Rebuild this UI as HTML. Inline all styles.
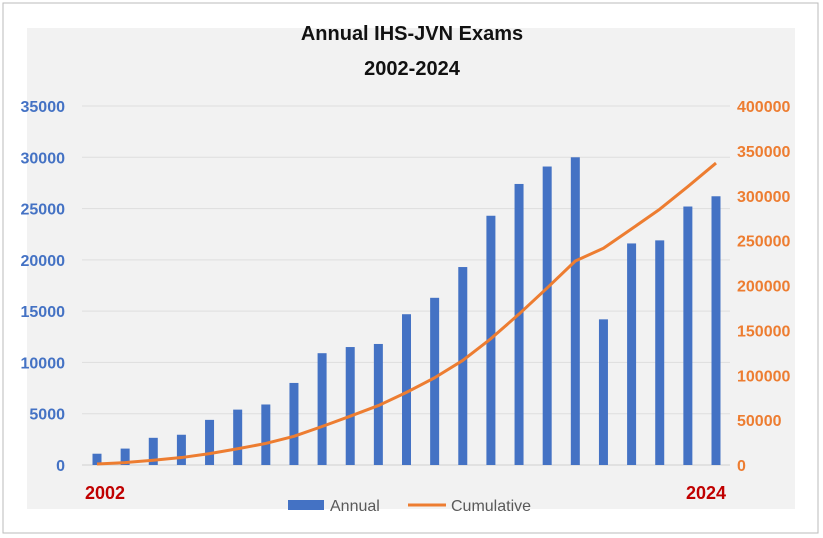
<!DOCTYPE html>
<html><head><meta charset="utf-8"><style>
html,body{margin:0;padding:0;background:#fff;}
svg{display:block;font-family:"Liberation Sans",sans-serif;}
</style></head><body>
<svg id="chart" width="823" height="538">
<rect x="3" y="3" width="815" height="530" fill="#fff" stroke="#bbb" stroke-width="1"/>
<rect x="27" y="28" width="768" height="481" fill="#f2f2f2"/>
<text x="412" y="40" text-anchor="middle" font-size="20" font-weight="bold" fill="#111">Annual IHS-JVN Exams</text>
<text x="412" y="75" text-anchor="middle" font-size="20" font-weight="bold" fill="#111">2002-2024</text>
<g id="grid"></g><g id="bars"></g><g id="line"></g><g id="yl"></g><g id="yr"></g>
<text x="85" y="499" font-size="18" font-weight="bold" fill="#c00000">2002</text>
<text x="726" y="499" text-anchor="end" font-size="18" font-weight="bold" fill="#c00000">2024</text>
<g>
<rect x="288" y="500" width="36" height="10" fill="#4472c4"/>
<text x="330" y="511" font-size="16" fill="#595959">Annual</text>
<line x1="408" y1="505" x2="446" y2="505" stroke="#ed7d31" stroke-width="3"/>
<text x="451" y="511" font-size="16" fill="#595959">Cumulative</text>
</g>
</svg>
<script>
const years=[2002,2003,2004,2005,2006,2007,2008,2009,2010,2011,2012,2013,2014,2015,2016,2017,2018,2019,2020,2021,2022,2023,2024];
const annual=[1100,1600,2650,2950,4400,5400,5900,8000,10900,11500,11800,14700,16300,19300,24300,27400,29100,30000,14200,21600,21900,25200,26200];
const cumulative=[1100,2700,5350,8300,12700,18100,24000,32000,42900,54400,66200,80900,97200,116500,140800,168200,197300,227300,241500,263100,285000,310200,336400];
const leftTicks=[0,5000,10000,15000,20000,25000,30000,35000];
const rightTicks=[0,50000,100000,150000,200000,250000,300000,350000,400000];
const NS="http://www.w3.org/2000/svg";
const y0=465,y1=106;
const yL=v=>y0-(v/35000)*(y0-y1);
const yR=v=>y0-(v/400000)*(y0-y1);
const xC=i=>97+i*(716-97)/(years.length-1);
function mk(t,a,p){const e=document.createElementNS(NS,t);for(const k in a)e.setAttribute(k,a[k]);document.getElementById(p).appendChild(e);return e;}
leftTicks.forEach(v=>{
 const g=mk('line',{x1:82,x2:730,y1:yL(v),y2:yL(v),stroke:v===0?'#d0d0d0':'#dedede','stroke-width':1},'grid');
 
 
 const t=mk('text',{x:65,y:yL(v)+6,'text-anchor':'end','font-size':16,'font-weight':'bold',fill:'#4472c4'},'yl');
 t.textContent=v;
 
 
});
rightTicks.forEach(v=>{
 const t=mk('text',{x:737,y:yR(v)+6,'font-size':16,'font-weight':'bold',fill:'#ed7d31'},'yr');
 t.textContent=v;
 
 
});
annual.forEach((v,i)=>{
 const r=mk('rect',{x:xC(i)-4.5,y:yL(v),width:9,height:y0-yL(v),fill:'#4472c4'},'bars');
 
 
});
const pl=mk('polyline',{points:cumulative.map((v,i)=>xC(i)+','+yR(v)).join(' '),fill:'none',stroke:'#ed7d31','stroke-width':3,'stroke-linejoin':'round'},'line');


</script>
</body></html>
